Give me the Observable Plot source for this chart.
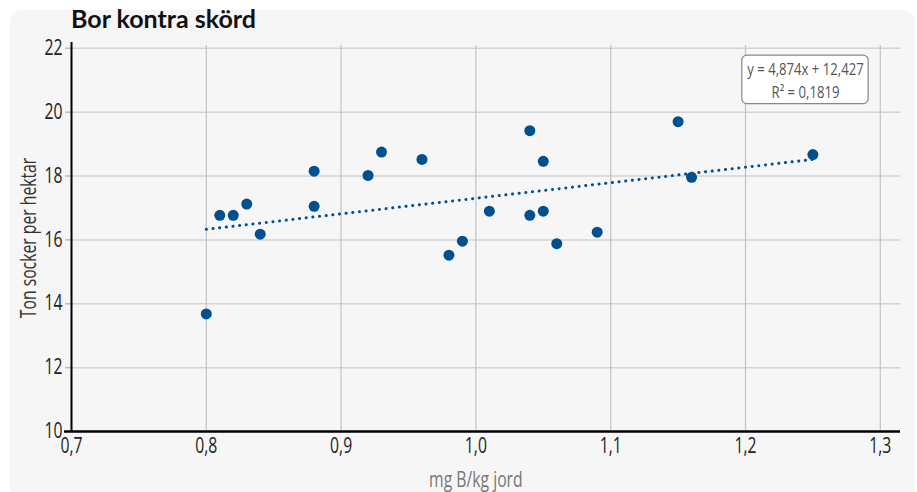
<!DOCTYPE html>
<html>
<head>
<meta charset="utf-8">
<script src="https://cdn.jsdelivr.net/npm/d3@7"></script>
<script src="https://cdn.jsdelivr.net/npm/@observablehq/plot@0.6"></script>
<style>
  body { margin: 0; background: #ffffff; width: 917px; height: 492px; overflow: hidden; position: relative; }
  #panel { position: absolute; left: 10px; top: 10px; width: 905px; height: 490px; background: #f6f6f6; border-radius: 12px; }
  #title { position: absolute; left: 71px; top: 3px; font-family: Lato, "Open Sans", sans-serif; font-weight: 700; font-size: 25px; color: #111; }
  #chart { position: absolute; left: 0; top: 0; }
</style>
</head>
<body>
<div id="panel"></div>
<div id="chart"></div>
<div id="title">Bor kontra skörd</div>
<script>
// ---- data ----
const boron = [0.80, 0.81, 0.82, 0.83, 0.84, 0.88, 0.88, 0.92, 0.93, 0.96, 0.98, 0.99, 1.01, 1.04, 1.04, 1.05, 1.05, 1.06, 1.09, 1.15, 1.16, 1.25];
const sugar = [13.68, 16.77, 16.77, 17.12, 16.18, 18.15, 17.05, 18.02, 18.75, 18.52, 15.52, 15.96, 16.90, 19.42, 16.77, 18.46, 16.90, 15.88, 16.24, 19.70, 17.96, 18.67];
const trendX = [0.80, 1.25];
const trendY = [16.33, 18.52];
const xTicks = [0.7, 0.8, 0.9, 1.0, 1.1, 1.2, 1.3];
const yTicks = [10, 12, 14, 16, 18, 20, 22];
const xLabel = "mg B/kg jord";
const yLabel = "Ton socker per hektar";
const noteLines = ["y = 4,874x + 12,427", "R² = 0,1819"];
const noteX = 1.2445;
const noteY = [21.32, 20.61];

const points = boron.map((b, i) => ({b, s: sugar[i]}));
const trend = trendX.map((x, i) => ({x, y: trendY[i]}));
const notes = noteLines.map((t, i) => ({t, y: noteY[i]}));
const fmt = d => d.toFixed(1).replace(".", ",");
const xMax = 1.315, yMax = 22.4;
const blue = "#00508f";
const font = '"Open Sans", "Noto Sans", sans-serif';

const chart = Plot.plot({
  width: 917,
  height: 492,
  marginLeft: 71,
  marginRight: 17,
  marginTop: 35,
  marginBottom: 61,
  style: {background: "transparent", fontFamily: font, fontSize: "21px", color: "#222"},
  x: {domain: [0.7, xMax]},
  y: {domain: [10, yMax]},
  marks: [
    Plot.ruleY(yTicks.slice(1), {x1: 0.7, x2: xMax, stroke: "#d4d4d4", strokeWidth: 1.5}),
    Plot.ruleX(xTicks.slice(1), {y1: 10, y2: yMax, stroke: "#c2c2c2", strokeWidth: 1.2, insetBottom: -10}),
    Plot.ruleY(yTicks.slice(1), {x1: 0.7, x2: 0.7, stroke: "#bbb", strokeWidth: 1.5, insetLeft: -6}),
    Plot.axisY(yTicks, {tickSize: 0, tickPadding: 9, label: null, fontSize: 21, fill: "#222"}),
    Plot.axisX(xTicks, {tickSize: 0, tickPadding: 7, tickFormat: fmt, label: null, fontSize: 21, fill: "#222"}),
    Plot.ruleX([0.7], {y1: 10, y2: yMax, stroke: "#000", strokeWidth: 2, insetBottom: -7}),
    Plot.ruleY([10], {x1: 0.7, x2: xMax, stroke: "#000", strokeWidth: 2.5, insetLeft: -7}),
    Plot.line(trend, {x: "x", y: "y", stroke: blue, strokeWidth: 3, strokeDasharray: "0.1 6.6", strokeLinecap: "round"}),
    Plot.dot(points, {x: "b", y: "s", r: 5.5, fill: blue, stroke: "none"}),
    Plot.text([yLabel], {x: () => 0.7, y: () => 16.06, text: d => d, rotate: -90, dx: -42, fontSize: 21, fill: "#333"}),
    Plot.text([xLabel], {x: () => 1.0, y: () => 10, text: d => d, dy: 49, fontSize: 21, fill: "#777"}),
    Plot.text(notes, {x: () => noteX, y: "y", text: "t", fontSize: 16, fill: "#555", className: "note"})
  ]
});
document.getElementById("chart").appendChild(chart);

// condense all chart text horizontally (the reference uses a condensed face)
chart.querySelectorAll("text").forEach(t => {
  const tr = t.getAttribute("transform") || "";
  const s = t.closest("g.note") ? 0.82 : 0.75;
  t.setAttribute("transform", tr + ` scale(${s},1)`);
});

// box behind the annotation, sized from the rendered text
const noteG = chart.querySelector("g.note");
if (noteG) {
  const bb = noteG.getBBox();
  const rect = document.createElementNS("http://www.w3.org/2000/svg", "rect");
  rect.setAttribute("x", bb.x - 5);
  rect.setAttribute("y", bb.y - 2);
  rect.setAttribute("width", bb.width + 10);
  rect.setAttribute("height", bb.height + 4);
  rect.setAttribute("rx", 5);
  rect.setAttribute("fill", "#fff");
  rect.setAttribute("stroke", "#888");
  rect.setAttribute("stroke-width", 1.2);
  noteG.parentNode.insertBefore(rect, noteG);
}
</script>
</body>
</html>
